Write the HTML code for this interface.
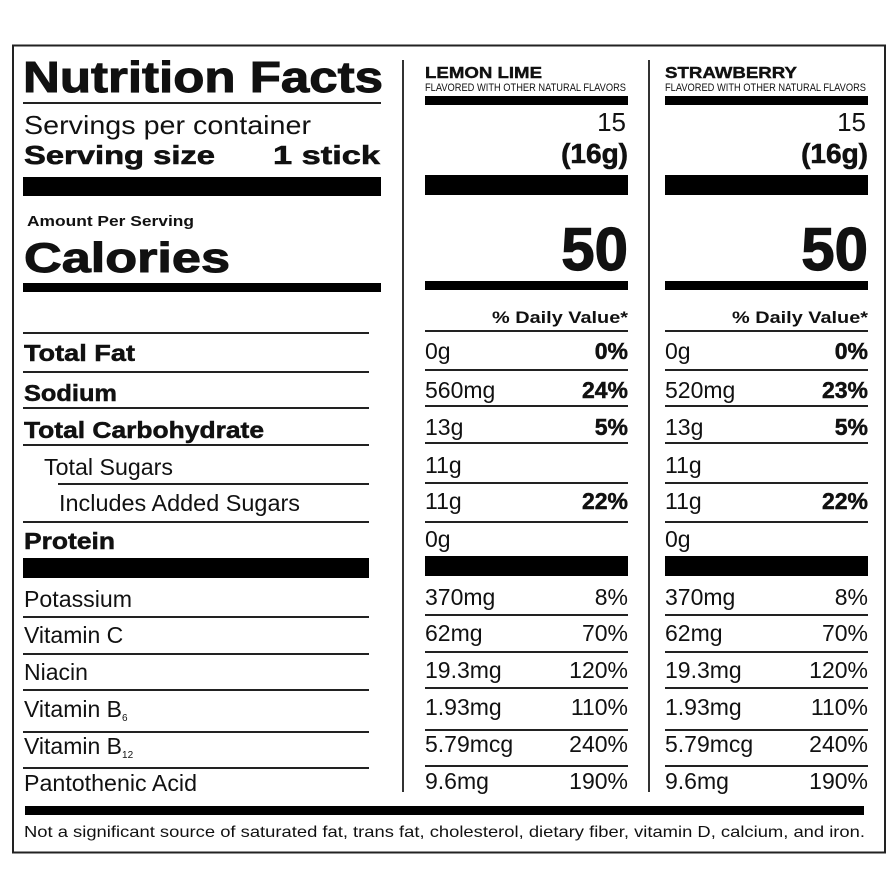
<!DOCTYPE html>
<html><head><meta charset="utf-8"><style>
html,body{margin:0;padding:0;background:#fff;}
svg{display:block;}
text{font-family:"Liberation Sans",sans-serif;fill:#111;}
.b{font-weight:bold;}
</style></head><body>
<svg width="896" height="896" viewBox="0 0 896 896" xmlns="http://www.w3.org/2000/svg">
<rect x="13" y="45.5" width="872" height="807" fill="none" stroke="#222" stroke-width="2"/>
<line x1="403" y1="60" x2="403" y2="792" stroke="#333" stroke-width="2"/>
<line x1="649" y1="60" x2="649" y2="792" stroke="#333" stroke-width="2"/>
<text class="b" x="23" y="92" font-size="44" textLength="360" lengthAdjust="spacingAndGlyphs" stroke="#111" stroke-width="1">Nutrition Facts</text>
<rect x="23" y="102" width="358" height="2" fill="#222"/>
<text x="24" y="134" font-size="26" textLength="287" lengthAdjust="spacingAndGlyphs">Servings per container</text>
<text class="b" x="24" y="164" font-size="26" textLength="191" lengthAdjust="spacingAndGlyphs" stroke="#111" stroke-width="0.6">Serving size</text>
<text class="b" x="273" y="164" font-size="26" textLength="107" lengthAdjust="spacingAndGlyphs" stroke="#111" stroke-width="0.6">1 stick</text>
<rect x="23" y="177" width="358" height="19" fill="#000"/>
<text class="b" x="27" y="226" font-size="15" textLength="167" lengthAdjust="spacingAndGlyphs">Amount Per Serving</text>
<text class="b" x="24" y="272" font-size="42" textLength="206" lengthAdjust="spacingAndGlyphs" stroke="#111" stroke-width="1">Calories</text>
<rect x="23" y="283" width="358" height="9" fill="#000"/>
<g fill="#222">
<rect x="23" y="332" width="346" height="2"/>
<rect x="23" y="371" width="346" height="2"/>
<rect x="23" y="407" width="346" height="2"/>
<rect x="23" y="444" width="346" height="2"/>
<rect x="58" y="483" width="311" height="2"/>
<rect x="23" y="521" width="346" height="2"/>
<rect x="23" y="558" width="346" height="20" fill="#000"/>
<rect x="23" y="616" width="346" height="2"/>
<rect x="23" y="653" width="346" height="2"/>
<rect x="23" y="689" width="346" height="2"/>
<rect x="23" y="731" width="346" height="2"/>
<rect x="23" y="767" width="346" height="2"/>
</g>
<g font-size="23">
<text class="b" x="24" y="361" textLength="111" lengthAdjust="spacingAndGlyphs" stroke="#111" stroke-width="0.5">Total Fat</text>
<text class="b" x="24" y="401" textLength="93" lengthAdjust="spacingAndGlyphs" stroke="#111" stroke-width="0.5">Sodium</text>
<text class="b" x="24" y="438" textLength="240" lengthAdjust="spacingAndGlyphs" stroke="#111" stroke-width="0.5">Total Carbohydrate</text>
<text x="44" y="475" textLength="129" lengthAdjust="spacingAndGlyphs">Total Sugars</text>
<text x="59" y="511" textLength="241" lengthAdjust="spacingAndGlyphs">Includes Added Sugars</text>
<text class="b" x="24" y="549" textLength="91" lengthAdjust="spacingAndGlyphs" stroke="#111" stroke-width="0.5">Protein</text>
<text x="24" y="607" textLength="108" lengthAdjust="spacingAndGlyphs">Potassium</text>
<text x="24" y="643">Vitamin C</text>
<text x="24" y="680">Niacin</text>
<text x="24" y="717">Vitamin B<tspan font-size="10" dy="4">6</tspan></text>
<text x="24" y="754">Vitamin B<tspan font-size="10" dy="4">12</tspan></text>
<text x="24" y="791" textLength="173" lengthAdjust="spacingAndGlyphs">Pantothenic Acid</text>
</g>
<g>
<text class="b" x="425" y="78" font-size="16" textLength="117" lengthAdjust="spacingAndGlyphs" stroke="#111" stroke-width="0.4">LEMON LIME</text>
<text x="425" y="91" font-size="11" textLength="201" lengthAdjust="spacingAndGlyphs">FLAVORED WITH OTHER NATURAL FLAVORS</text>
</g>
<g>
<text class="b" x="665" y="78" font-size="16" textLength="132" lengthAdjust="spacingAndGlyphs" stroke="#111" stroke-width="0.4">STRAWBERRY</text>
<text x="665" y="91" font-size="11" textLength="201" lengthAdjust="spacingAndGlyphs">FLAVORED WITH OTHER NATURAL FLAVORS</text>
</g>
<g>
<rect x="425" y="96" width="203" height="9" fill="#000"/>
<text x="626" y="131" font-size="26" text-anchor="end">15</text>
<text class="b" x="628" y="163" font-size="28" text-anchor="end" stroke="#111" stroke-width="0.6">(16g)</text>
<rect x="425" y="175" width="203" height="20" fill="#000"/>
<text class="b" x="628" y="270" font-size="60" text-anchor="end" stroke="#111" stroke-width="1.2">50</text>
<rect x="425" y="281" width="203" height="9" fill="#000"/>
<text class="b" x="628" y="323" font-size="17" text-anchor="end" textLength="136" lengthAdjust="spacingAndGlyphs">% Daily Value*</text>
<g fill="#222">
<rect x="425" y="330" width="203" height="2"/>
<rect x="425" y="369" width="203" height="2"/>
<rect x="425" y="405" width="203" height="2"/>
<rect x="425" y="442" width="203" height="2"/>
<rect x="425" y="482" width="203" height="2"/>
<rect x="425" y="521" width="203" height="2"/>
<rect x="425" y="556" width="203" height="20" fill="#000"/>
<rect x="425" y="614" width="203" height="2"/>
<rect x="425" y="651" width="203" height="2"/>
<rect x="425" y="687" width="203" height="2"/>
<rect x="425" y="729" width="203" height="2"/>
<rect x="425" y="765" width="203" height="2"/>
</g>
<g font-size="23">
<text x="425" y="359">0g</text>
<text class="b" x="628" y="359" text-anchor="end" stroke="#111" stroke-width="0.5">0%</text>
<text x="425" y="398">560mg</text>
<text class="b" x="628" y="398" text-anchor="end" stroke="#111" stroke-width="0.5">24%</text>
<text x="425" y="435">13g</text>
<text class="b" x="628" y="435" text-anchor="end" stroke="#111" stroke-width="0.5">5%</text>
<text x="425" y="473">11g</text>
<text x="425" y="509">11g</text>
<text class="b" x="628" y="509" text-anchor="end" stroke="#111" stroke-width="0.5">22%</text>
<text x="425" y="547">0g</text>
<text x="425" y="605">370mg</text>
<text x="628" y="605" text-anchor="end">8%</text>
<text x="425" y="641">62mg</text>
<text x="628" y="641" text-anchor="end">70%</text>
<text x="425" y="678">19.3mg</text>
<text x="628" y="678" text-anchor="end">120%</text>
<text x="425" y="715">1.93mg</text>
<text x="628" y="715" text-anchor="end">110%</text>
<text x="425" y="752">5.79mcg</text>
<text x="628" y="752" text-anchor="end">240%</text>
<text x="425" y="789">9.6mg</text>
<text x="628" y="789" text-anchor="end">190%</text>
</g>
</g>
<g transform="translate(240,0)">
<rect x="425" y="96" width="203" height="9" fill="#000"/>
<text x="626" y="131" font-size="26" text-anchor="end">15</text>
<text class="b" x="628" y="163" font-size="28" text-anchor="end" stroke="#111" stroke-width="0.6">(16g)</text>
<rect x="425" y="175" width="203" height="20" fill="#000"/>
<text class="b" x="628" y="270" font-size="60" text-anchor="end" stroke="#111" stroke-width="1.2">50</text>
<rect x="425" y="281" width="203" height="9" fill="#000"/>
<text class="b" x="628" y="323" font-size="17" text-anchor="end" textLength="136" lengthAdjust="spacingAndGlyphs">% Daily Value*</text>
<g fill="#222">
<rect x="425" y="330" width="203" height="2"/>
<rect x="425" y="369" width="203" height="2"/>
<rect x="425" y="405" width="203" height="2"/>
<rect x="425" y="442" width="203" height="2"/>
<rect x="425" y="482" width="203" height="2"/>
<rect x="425" y="521" width="203" height="2"/>
<rect x="425" y="556" width="203" height="20" fill="#000"/>
<rect x="425" y="614" width="203" height="2"/>
<rect x="425" y="651" width="203" height="2"/>
<rect x="425" y="687" width="203" height="2"/>
<rect x="425" y="729" width="203" height="2"/>
<rect x="425" y="765" width="203" height="2"/>
</g>
<g font-size="23">
<text x="425" y="359">0g</text>
<text class="b" x="628" y="359" text-anchor="end" stroke="#111" stroke-width="0.5">0%</text>
<text x="425" y="398">520mg</text>
<text class="b" x="628" y="398" text-anchor="end" stroke="#111" stroke-width="0.5">23%</text>
<text x="425" y="435">13g</text>
<text class="b" x="628" y="435" text-anchor="end" stroke="#111" stroke-width="0.5">5%</text>
<text x="425" y="473">11g</text>
<text x="425" y="509">11g</text>
<text class="b" x="628" y="509" text-anchor="end" stroke="#111" stroke-width="0.5">22%</text>
<text x="425" y="547">0g</text>
<text x="425" y="605">370mg</text>
<text x="628" y="605" text-anchor="end">8%</text>
<text x="425" y="641">62mg</text>
<text x="628" y="641" text-anchor="end">70%</text>
<text x="425" y="678">19.3mg</text>
<text x="628" y="678" text-anchor="end">120%</text>
<text x="425" y="715">1.93mg</text>
<text x="628" y="715" text-anchor="end">110%</text>
<text x="425" y="752">5.79mcg</text>
<text x="628" y="752" text-anchor="end">240%</text>
<text x="425" y="789">9.6mg</text>
<text x="628" y="789" text-anchor="end">190%</text>
</g>
</g>
<rect x="25" y="806" width="839" height="9" fill="#000"/>
<text x="24" y="837" font-size="16" textLength="841" lengthAdjust="spacingAndGlyphs">Not a significant source of saturated fat, trans fat, cholesterol, dietary fiber, vitamin D, calcium, and iron.</text>
</svg>
</body></html>
